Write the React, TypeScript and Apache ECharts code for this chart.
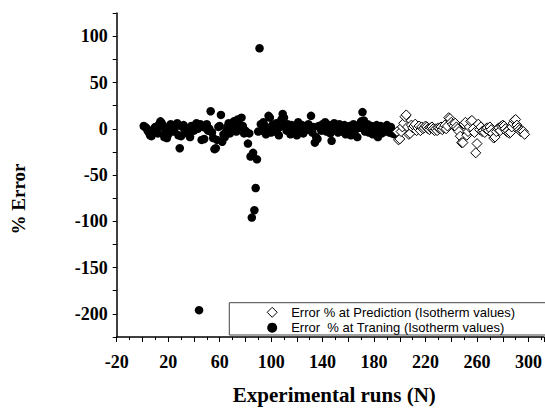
import React, { useEffect, useRef } from "react";
import * as echarts from "echarts";

// Training runs start at run 1, prediction runs follow
const trainingStartRun = 1;
const trainingErrors = [
  3, 2, 1, -2, -4, -7, -8, -3, 0, 2,
  -1, -5, 5, 8, 6, 2, -9, -4, -10, -6,
  3, 5, 1, -3, 0, 4, 6, -7, -21, -8,
  2, 4, -3, -1, 0, -6, -9, 3, 1, -2,
  4, 6, 0, -196, 5, -12, 2, -11, 1, 5,
  -2, 0, 19, -4, -10, -22, -21, -12, 2, 3,
  15, -14, -6, -9, -3, 2, 6, -5, -2, 3,
  8, 1, -3, 10, 5, 2, 12, 3, -5, -2,
  -4, -16, -5, -30, -96, -26, -88, -64, -33, -3,
  87, 5, -2, 7, 3, -6, 1, 14, 12, -4,
  4, 1, -3, 6, 0, -7, 2, 10, 16, 12,
  3, -2, 5, 1, -6, 4, 0, -3, 2, -7,
  7, 2, -2, 4, -5, 1, 3, -1, 5, 0,
  14, -4, 2, -15, -9, -11, 3, 1, -2, 5,
  2, 7, -3, 0, 4, -5, -13, 1, 6, -2,
  3, -4, 5, 0, -3, 2, 4, -6, 1, -1,
  3, -7, 2, 5, -2, 0, -9, 4, 1, 8,
  18, 9, -3, 2, 5, -4, 0, 3, -6, 2,
  -2, 4, -9, 1, 3, -5, 0, 2, -3, 4,
  -1, -4, 2, -5, -3, -6, -5,
];

const predictionStartRun = 198;
const predictionErrors = [
  -3, -12, -11, -3, 2, 6, 13, 15, 2, -6,
  -5, 4, 1, 3, 5, -2, 1, 3, -2, 2,
  0, 1, 3, 2, 0, -1, 1, 2, 0, -2,
  0, -2, 1, 0, 2, -1, 1, 4, 0, 3,
  12, 11, 7, 5, 3, 6, 2, 0, -3, -8,
  -15, -15, 5, 7, -7, -3, 2, 8, 9, 0,
  -4, -26, -16, 5, -1, 2, -3, -2, -4, 0,
  1, -2, 2, -1, -5, -10, -9, -3, 0, 1,
  -2, 3, 4, 3, 0, -3, -2, -5, -4, 2,
  6, 9, 10, 4, 1, -1, -3, -2, -3, -6,
];

const xTickLabels = [-20, 20, 60, 100, 140, 180, 220, 260, 300];
const yTickLabels = [-200, -150, -100, -50, 0, 50, 100];

const predictionName = "Error % at Prediction (Isotherm values)";
const trainingName = "Error  % at Traning (Isotherm values)";

export default function App() {
  const ref = useRef<HTMLDivElement>(null);

  useEffect(() => {
    if (!ref.current) return;
    const chart = echarts.init(ref.current, undefined, { renderer: "svg" });

    const trainingData = trainingErrors.map((v, i) => [trainingStartRun + i, v]);
    const predictionData = predictionErrors.map((v, i) => [predictionStartRun + i, v]);

    const serif = "'Liberation Serif', 'Times New Roman', serif";
    const sans = "'Liberation Sans', Arial, sans-serif";

    chart.setOption({
      animation: false,
      backgroundColor: "#ffffff",
      grid: { left: 116.7, top: 13.1, right: 0, bottom: 66.5, containLabel: false },
      xAxis: {
        type: "value",
        min: -20,
        max: 312,
        interval: 20,
        name: "Experimental runs (N)",
        nameLocation: "middle",
        nameGap: 47,
        nameTextStyle: {
          fontFamily: serif,
          fontWeight: "bold",
          fontSize: 21,
          color: "#000",
          padding: [0, 0, 0, 8],
        },
        axisLine: { show: true, onZero: false, lineStyle: { color: "#000", width: 1.5 } },
        axisTick: { show: true, inside: false, length: 5, lineStyle: { color: "#000", width: 1 } },
        minorTick: { show: true, splitNumber: 2, length: 3, lineStyle: { color: "#000", width: 1 } },
        splitLine: { show: false },
        minorSplitLine: { show: false },
        axisLabel: {
          margin: 16,
          fontFamily: serif,
          fontWeight: "bold",
          fontSize: 18,
          color: "#000",
          showMaxLabel: false,
          formatter: (v: number) => (xTickLabels.indexOf(v) >= 0 ? String(v) : ""),
        },
      },
      yAxis: {
        type: "value",
        min: -225,
        max: 125,
        interval: 25,
        axisLine: { show: true, onZero: false, lineStyle: { color: "#000", width: 1.5 } },
        axisTick: { show: true, inside: false, length: 4, lineStyle: { color: "#000", width: 1 } },
        splitLine: { show: false },
        axisLabel: {
          margin: 9,
          fontFamily: serif,
          fontWeight: "bold",
          fontSize: 18,
          color: "#000",
          formatter: (v: number) => (yTickLabels.indexOf(v) >= 0 ? String(v) : ""),
        },
      },
      legend: {
        left: 229.3,
        top: 302.7,
        orient: "vertical",
        itemWidth: 10,
        itemHeight: 10,
        itemGap: 1.4,
        symbolKeepAspect: true,
        padding: [2.6, 40, 0.3, 37.4],
        borderWidth: 1,
        borderColor: "#444",
        backgroundColor: "#fff",
        textStyle: {
          fontFamily: sans,
          fontSize: 13,
          color: "#000",
          lineHeight: 14,
          padding: [0, 0, 0, 9],
        },
        data: [
          {
            name: predictionName,
            icon: "diamond",
            itemStyle: { color: "#fff", borderColor: "#000", borderWidth: 1 },
          },
          { name: trainingName, icon: "circle", itemStyle: { color: "#000" } },
        ],
      },
      graphic: [
        {
          type: "text",
          x: 18.3,
          y: 199,
          rotation: Math.PI / 2,
          style: {
            text: "% Error",
            fontFamily: serif,
            fontWeight: "bold",
            fontSize: 19,
            fill: "#000",
            align: "center",
            verticalAlign: "middle",
          },
        },
      ],
      series: [
        {
          name: trainingName,
          type: "scatter",
          symbol: "circle",
          symbolSize: 8.5,
          itemStyle: { color: "#000", opacity: 1 },
          data: trainingData,
        },
        {
          name: predictionName,
          type: "scatter",
          symbol: "diamond",
          symbolSize: 10,
          itemStyle: { color: "#fff", borderColor: "#000", borderWidth: 1, opacity: 1 },
          data: predictionData,
        },
      ],
    });

    return () => chart.dispose();
  }, []);

  return (
    <div
      ref={ref}
      style={{ position: "absolute", left: 0, top: 0, width: 545, height: 410, background: "#fff" }}
    />
  );
}
